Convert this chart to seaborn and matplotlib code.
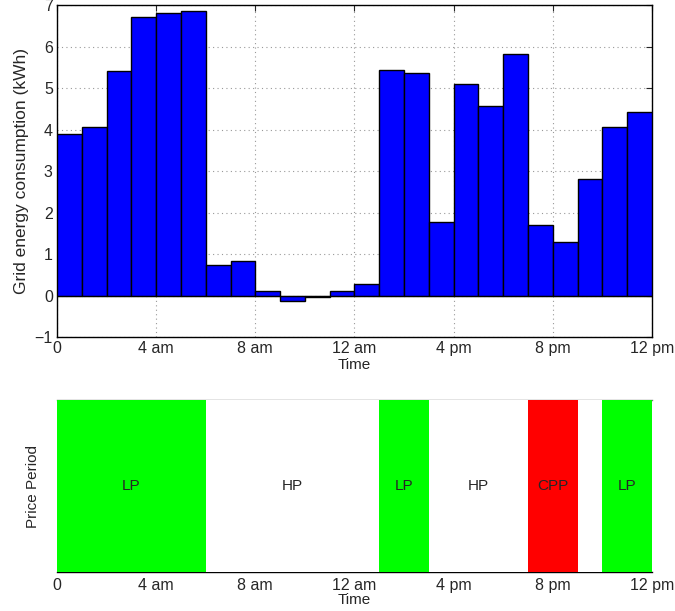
import matplotlib
matplotlib.use("Agg")
import matplotlib.pyplot as plt
import numpy as np
import pandas as pd
import seaborn as sns

# hourly grid energy consumption (kWh)
hours = list(range(24))
energy = [3.88, 4.07, 5.42, 6.72, 6.80, 6.85, 0.73, 0.83, 0.12, -0.13,
          -0.04, 0.12, 0.28, 5.43, 5.37, 1.78, 5.10, 4.57, 5.83, 1.70,
          1.30, 2.80, 4.05, 4.43]

# price period of each hour
period = ['LP'] * 6 + ['HP'] * 7 + ['LP'] * 2 + ['HP'] * 4 + ['CPP'] * 2 + ['HP'] + ['LP'] * 2
period_colors = {'LP': '#00ff00', 'HP': 'white', 'CPP': '#ff0000'}

# labels written on the price bands
band_text = ['LP', 'HP', 'LP', 'HP', 'CPP', 'LP']
band_mid = [3, 9.5, 14, 17, 20, 23]

tick_pos = [0, 4, 8, 12, 16, 20, 24]
tick_lab = ['0', '4 am', '8 am', '12 am', '4 pm', '8 pm', '12 pm']

sns.set_style('white')
plt.rcParams['font.family'] = ['Liberation Sans', 'DejaVu Sans']
plt.rcParams['font.size'] = 10

df = pd.DataFrame({'hour': hours, 'energy': energy, 'period': period})
df['one'] = 1

fig = plt.figure(figsize=(6.75, 6.11), dpi=100)
ax1 = fig.add_axes([0.0844, 0.4484, 0.8815, 0.5434])
ax2 = fig.add_axes([0.0844, 0.0638, 0.8815, 0.2815])

# top: energy bars
sns.barplot(data=df, x='hour', y='energy', color='#0000ff', saturation=1,
            width=1, edgecolor='black', linewidth=1, ax=ax1)
for p in ax1.patches:
    p.set_zorder(3)
ax1.axhline(0, color='black', lw=0.8, zorder=4)
ax1.set_xlim(-0.5, 23.5)
ax1.set_ylim(-1, 7)
ax1.set_xticks([t - 0.5 for t in tick_pos])
ax1.set_xticklabels(tick_lab)
ax1.set_yticks(range(-1, 8))
ax1.set_yticklabels(['\u22121'] + [str(i) for i in range(0, 8)])
ax1.grid(True, linestyle=(0, (1, 3)), color='#999999', linewidth=0.8)
ax1.set_axisbelow(True)
ax1.tick_params(direction='in', top=True, right=True, length=4, labelsize=11.5, pad=3)
for s in ax1.spines.values():
    s.set_color('black')
    s.set_linewidth(1)
ax1.set_xlabel('Time', labelpad=1, fontsize=11)
ax1.set_ylabel('Grid energy consumption (kWh)', fontsize=12.5, labelpad=4)

# bottom: price periods
sns.barplot(data=df, x='hour', y='one', hue='period', palette=period_colors,
            saturation=1, width=1, linewidth=0, legend=False, ax=ax2)
for p in ax2.patches:
    p.set_zorder(3)
ax2.set_xlim(-0.5, 23.5)
ax2.set_ylim(0, 1)
ax2.set_xticks([t - 0.5 for t in tick_pos])
ax2.set_xticklabels(tick_lab)
ax2.set_yticks([])
for txt, xm in zip(band_text, band_mid):
    ax2.text(xm - 0.5, 0.5, txt, ha='center', va='center', fontsize=11, zorder=5)
ax2.tick_params(axis='x', length=0, labelsize=11.5, pad=4)
ax2.spines['left'].set_visible(False)
ax2.spines['right'].set_visible(False)
ax2.spines['top'].set_color('#777777')
ax2.spines['top'].set_linewidth(1)
ax2.spines['bottom'].set_color('black')
ax2.spines['bottom'].set_linewidth(1)
ax2.set_xlabel('Time', labelpad=0, fontsize=11)
ax2.set_ylabel('Price Period', labelpad=12, fontsize=11)

fig.savefig('out.png', dpi=100)
